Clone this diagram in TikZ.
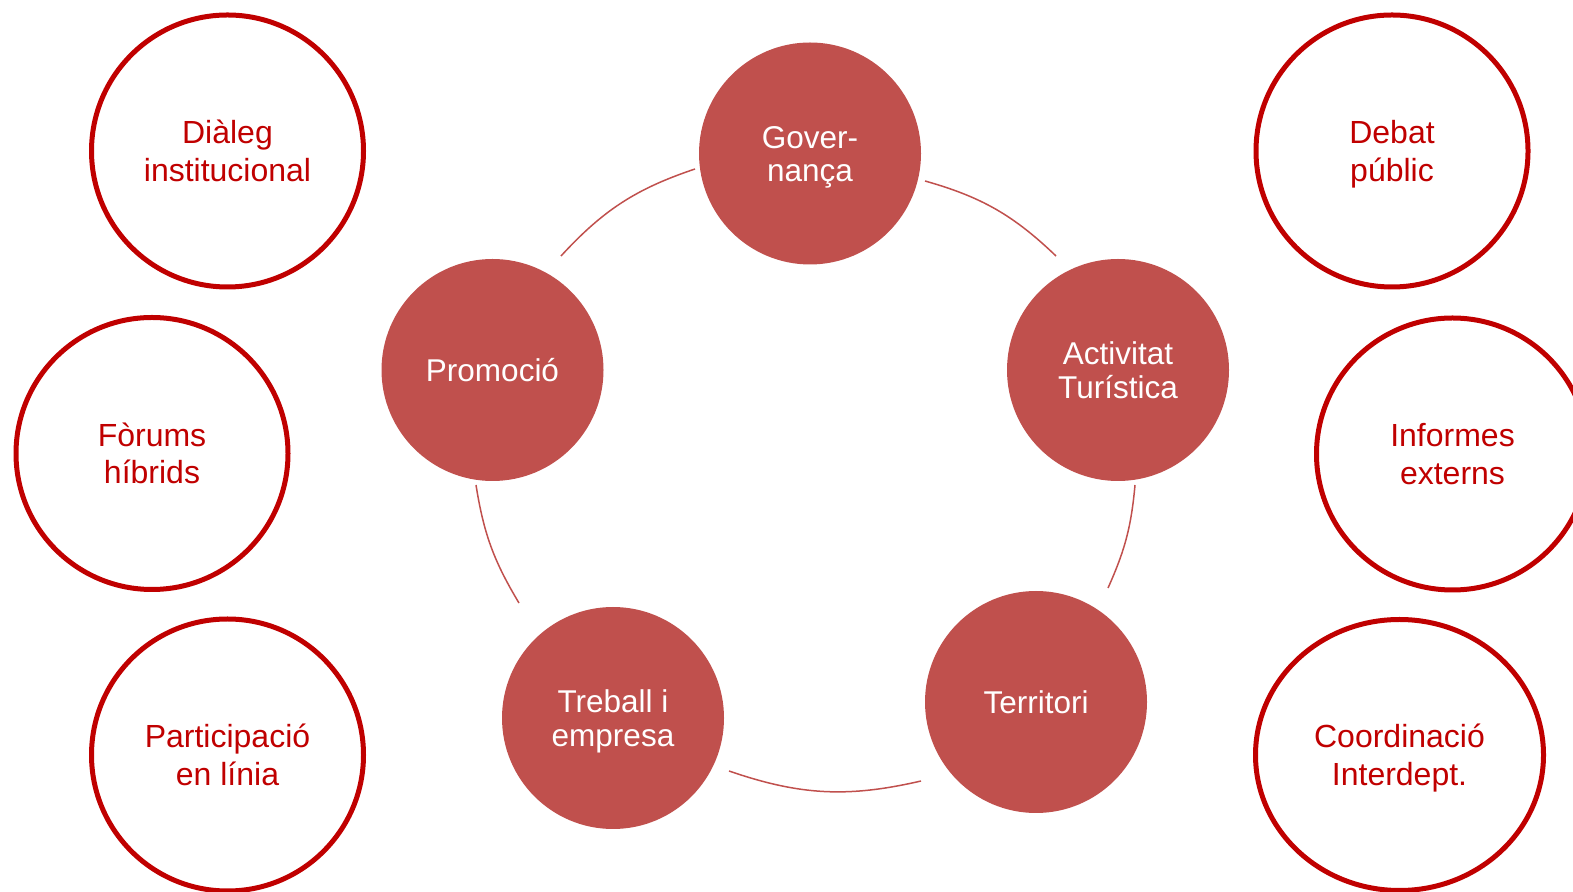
\documentclass[tikz,border=0pt]{standalone}
\usepackage{fontspec}
\setmainfont{Liberation Sans}
\usetikzlibrary{shapes.geometric}
\definecolor{tema}{HTML}{C0504D}
\definecolor{vermell}{HTML}{C00000}
\begin{document}
\begin{tikzpicture}[x=1pt,y=1pt]
\tikzset{eix/.style={circle,fill=tema,minimum size=222pt,inner sep=0pt,text=white,align=center,text height=56.1pt,text depth=0pt,font=\fontsize{31.5}{33.5}\selectfont}}
\tikzset{canal/.style={circle,draw=vermell,line width=5pt,minimum size=272pt,inner sep=0pt,text=vermell,align=center,text height=60.4pt,text depth=0pt,font=\fontsize{32}{37.5}\selectfont}}
\tikzset{cicle/.style={draw=tema,line width=1.5pt}}
\useasboundingbox (0,0) rectangle (1573,891);
\node[eix] (gov) at (810,737.5) {Gover-\\nança};
\node[eix] (act) at (1118,521) {Activitat\\Turística};
\node[eix,text height=22.6pt] (terr) at (1036,189) {Territori};
\node[eix] (treb) at (613,173) {Treball i\\empresa};
\node[eix,text height=22.6pt] (prom) at (492.5,521) {Promoció};
\node[canal] (dial) at (227.5,740) {Diàleg\\institucional};
\node[canal] (forum) at (152,437.5) {Fòrums\\híbrids};
\node[canal] (part) at (227.5,136) {Participació\\en línia};
\node[canal] (debat) at (1392,740) {Debat\\públic};
\node[canal] (inform) at (1452.5,437) {Informes\\externs};
\node[canal,ellipse,minimum width=288pt,minimum height=271pt] (coord) at (1399.5,136) {Coordinació\\Interdept.};
\draw[cicle] ([shift={(115,-27.5)}]gov.center) to[bend left=14] ([shift={(-62,114)}]act.center);
\draw[cicle] ([shift={(17,-115)}]act.center) to[bend left=9.5] ([shift={(72,114)}]terr.center);
\draw[cicle] ([shift={(-115,-79)}]terr.center) to[bend left=16] ([shift={(116,-53)}]treb.center);
\draw[cicle] ([shift={(-94,115)}]treb.center) to[bend left=11] ([shift={(-16.5,-115)}]prom.center);
\draw[cicle] ([shift={(68.5,114)}]prom.center) to[bend left=14.4] ([shift={(-115,-15.5)}]gov.center);
\end{tikzpicture}
\end{document}
